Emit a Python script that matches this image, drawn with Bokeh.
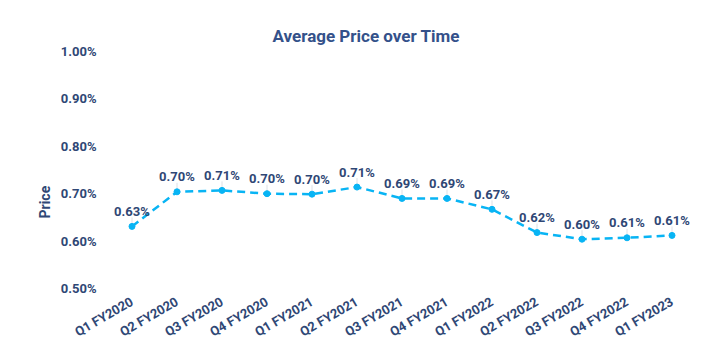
import math
from bokeh.plotting import figure
from bokeh.models import ColumnDataSource, FactorRange, Range1d, Title, FixedTicker, CustomJSTickFormatter
from bokeh.core.properties import value
from bokeh.embed import file_html
from bokeh.resources import INLINE

quarters = ["Q1 FY2020", "Q2 FY2020", "Q3 FY2020", "Q4 FY2020", "Q1 FY2021", "Q2 FY2021",
            "Q3 FY2021", "Q4 FY2021", "Q1 FY2022", "Q2 FY2022", "Q3 FY2022", "Q4 FY2022", "Q1 FY2023"]
price = [0.631, 0.704, 0.707, 0.700, 0.699, 0.714, 0.690, 0.690, 0.667, 0.618, 0.604, 0.607, 0.612]
y_ticks = [0.5, 0.6, 0.7, 0.8, 0.9, 1.0]

NAVY = "#2f4775"
BLUE = "#08b4f4"
FONT = "Roboto"

labels = ["%.2f%%" % v for v in price]
src = ColumnDataSource(dict(q=quarters, v=price, lab=labels))

p = figure(x_range=FactorRange(*quarters, range_padding=0), y_range=Range1d(0.5, 1.0),
           frame_width=585, frame_height=237, output_backend="svg", toolbar_location=None,
           min_border_left=109, min_border_right=3, min_border_top=51, min_border_bottom=59)
p.title.text = "Average Price over Time"
p.title.align = "left"
p.title.offset = 163
p.title.text_font = FONT
p.title.text_font_size = "17px"
p.title.text_font_style = "bold"
p.title.text_color = "#34518a"
p.title.standoff = 11
p.outline_line_color = None
p.grid.visible = False

for ax in (p.xaxis[0], p.yaxis[0]):
    ax.axis_line_color = None
    ax.major_tick_line_color = None
    ax.minor_tick_line_color = None
    ax.major_label_text_font = FONT
    ax.major_label_text_font_style = "bold"
    ax.major_label_text_color = NAVY

p.yaxis.ticker = FixedTicker(ticks=y_ticks)
p.yaxis.formatter = CustomJSTickFormatter(code="return tick.toFixed(2) + '%';")
p.yaxis.major_label_text_font_size = "13px"
p.yaxis.major_label_standoff = 7
p.xaxis.major_label_orientation = math.radians(30)
p.xaxis.major_label_text_font_size = "13px"
p.xaxis.major_label_standoff = 6

ytitle = Title(text="Price", align="left", offset=70, text_font=FONT, text_font_style="bold",
               text_font_size="14px", text_color=NAVY, standoff=10)
p.add_layout(ytitle, "left")

# leader lines
p.ray(x="q", y="v", length=9, length_units="screen", angle=math.pi / 2,
      line_color="#dde0e6", line_width=1, source=src)
p.line(x="q", y="v", line_color=BLUE, line_width=2.5, line_dash="8 5", source=src)
p.scatter(x="q", y="v", size=6, fill_color=BLUE, line_color=BLUE, source=src)
p.text(x="q", y="v", text="lab", text_font=value(FONT), text_font_style="bold",
       text_font_size="13px", text_color=NAVY, text_align="center", text_baseline="middle",
       y_offset=-15, source=src)

open("out.html", "w").write(file_html(p, INLINE))
